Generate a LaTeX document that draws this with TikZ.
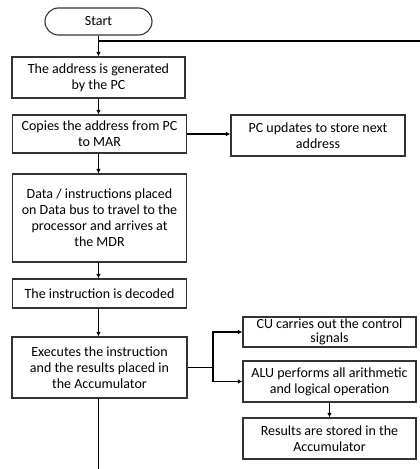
\documentclass[tikz,border=0pt]{standalone}
\usepackage{fontspec}
\setmainfont{Carlito}
\usetikzlibrary{arrows.meta,shapes.misc}
\begin{document}
\begin{tikzpicture}[x=1pt,y=-1pt,
  box/.style={draw=black!80,line width=1.1pt,rectangle,align=center,inner sep=1pt,
    font=\fontsize{14}{16}\selectfont},
  tight/.style={font=\fontsize{14}{14}\selectfont},
  conn/.style={line width=1.6pt,-{Latex[length=4.5pt,width=4.5pt]}},
  plain/.style={line width=1.6pt}]
\useasboundingbox[fill=white] (0,0) rectangle (420,469);
\node[box,rounded rectangle,minimum width=109pt,minimum height=27pt] (start) at (98.5,21.5) {Start};
\node[box,minimum width=173pt,minimum height=41pt] (b1) at (98.5,77.5) {The address is generated\\by the PC};
\node[box,minimum width=174pt,minimum height=38pt] (b2) at (99.5,134) {Copies the address from PC\\to MAR};
\node[box,minimum width=174pt,minimum height=41pt] (pc) at (318,135.5) {PC updates to store next\\address};
\node[box,minimum width=174pt,minimum height=88pt] (data) at (99.5,218) {Data / instructions placed\\on Data bus to travel to the\\processor and arrives at\\the MDR};
\node[box,minimum width=174pt,minimum height=29pt] (dec) at (99.5,293.5) {The instruction is decoded};
\node[box,minimum width=175pt,minimum height=61pt] (exec) at (99.5,367.5) {Executes the instruction\\and the results placed in\\the Accumulator};
\node[box,tight,minimum width=173pt,minimum height=30pt] (cu) at (329.5,332) {CU carries out the control\\signals};
\node[box,minimum width=173pt,minimum height=41pt] (alu) at (329.5,381.5) {ALU performs all arithmetic\\and logical operation};
\node[box,minimum width=173pt,minimum height=41pt] (res) at (329.5,438.5) {Results are stored in the\\Accumulator};
\coordinate (loop) at (98.5,41);
\coordinate (loopend) at (420,41);
\coordinate (split) at (213,367.5);
\coordinate (bottom) at (98.5,469);
\draw[conn] (start.south) -- (b1.north);
\draw[plain] (loop) -- (loopend);
\draw[conn] (b1.south) -- (b1.south |- b2.north);
\draw[conn] (b2.east) -- (b2.east -| pc.west);
\draw[conn] (b2.south -| b1.south) -- (b1.south |- data.north);
\draw[conn] (b1.south |- data.south) -- (b1.south |- dec.north);
\draw[conn] (b1.south |- dec.south) -- (b1.south |- exec.north);
\draw[plain] (exec.east) -- (split);
\draw[conn] (split) |- (cu.west);
\draw[conn] (split) |- (alu.west);
\draw[conn] (alu.south) -- (res.north);
\draw[plain] (b1.south |- exec.south) -- (bottom);
\end{tikzpicture}
\end{document}
